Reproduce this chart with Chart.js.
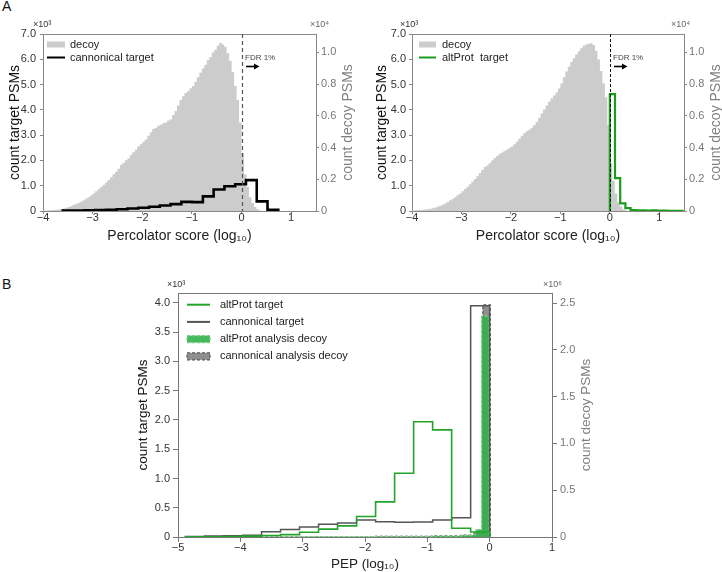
<!DOCTYPE html>
<html>
<head>
<meta charset="utf-8">
<script src="https://cdn.jsdelivr.net/npm/chart.js@4.4.1/dist/chart.umd.min.js"></script>
<style>
  body { margin: 0; background: #fff; width: 722px; height: 572px; position: relative; overflow: hidden; font-family: 'Liberation Sans', Arial, sans-serif; }
  canvas { position: absolute; }
  .tag { position: absolute; font-size: 14px; color: #111; }
</style>
</head>
<body>
<div class="tag" style="left:2px;top:-2px">A</div>
<div class="tag" style="left:2px;top:276px">B</div>
<canvas id="canonChart" width="361" height="250" style="left:0;top:0"></canvas>
<canvas id="altChart" width="361" height="250" style="left:361px;top:0"></canvas>
<canvas id="pepChart" width="722" height="292" style="left:0;top:280px"></canvas>
<script>
Chart.defaults.font.family = "'Liberation Sans', Arial, sans-serif";
Chart.defaults.font.size = 11;
Chart.defaults.color = "#333";

/* --------------- Panel A left : decoy vs cannonical target --------------- */

const decoyStart = -4.0;
const decoyWidth = 0.05;
const canonDecoyCounts = [
  30, 30, 50, 50, 60, 80, 95, 130, 160, 210,
  250, 320, 400, 460, 520, 600, 680, 780, 870, 990,
  1110, 1240, 1370, 1510, 1650, 1800, 1960, 2130, 2310, 2480,
  2660, 2890, 3020, 3200, 3330, 3530, 3700, 3860, 4060, 4200,
  4360, 4510, 4740, 4960, 5170, 5250, 5370, 5430, 5530, 5570,
  5700, 5760, 6040, 6300, 6650, 7000, 7230, 7440, 7550, 7730,
  7880, 8140, 8430, 8710, 8970, 9220, 9520, 9700, 9990, 10150,
  10410, 10600, 10490, 10340, 9940, 9460, 8750, 7870, 7000, 5570,
  3660, 2310, 1510, 870, 510, 250, 110, 30,
];
const canonTargetStart = -3.6;
const canonTargetWidth = 0.217;
const canonTargetCounts = [20, 20, 30, 40, 50, 70, 100, 130, 170, 220, 270, 360, 350, 580, 850, 980, 1060, 1220, 380, 50];

/* --------------- Panel A right : decoy vs altProt target --------------- */

const altDecoyCounts = [
  30, 50, 50, 60, 80, 100, 110, 140, 170, 220,
  270, 330, 400, 480, 570, 670, 760, 870, 990, 1110,
  1240, 1380, 1530, 1690, 1840, 2020, 2190, 2390, 2580, 2770,
  2860, 3020, 3180, 3340, 3470, 3590, 3690, 3780, 3880, 3980,
  4070, 4200, 4360, 4550, 4740, 4900, 5020, 5120, 5250, 5410,
  5600, 5880, 6140, 6390, 6650, 6880, 7090, 7280, 7470, 7710,
  8030, 8430, 8780, 9090, 9380, 9620, 9860, 10060, 10260, 10410,
  10490, 10530, 10570, 10460, 10100, 9540, 8820, 8030, 7160, 5410,
  3020, 1910, 1110, 560, 290, 110, 30,
];
const altTargetStart = 0;
const altTargetWidth = 0.105;
const altTargetCounts = [4620, 1300, 300, 110, 40, 30, 25, 20, 25, 20, 15, 10, 10, 10];

/* --------------- Panel B : PEP --------------- */

const pepStart = -4.88;
const pepWidth = 0.305;
const pepAltTarget = [3, 5, 8, 15, 25, 40, 80, 135, 190, 350, 600, 1090, 1970, 1830, 150, 85];
const pepCanonTarget = [10, 15, 20, 30, 90, 130, 170, 220, 240, 290, 260, 250, 255, 290, 330, 3950];
const pepAltDecoyEdges = [-4.88, -3.05, -1.83, -0.92, -0.46, -0.27, -0.22, -0.13, -0.01];
const pepAltDecoyCounts = [1000, 3000, 6000, 10000, 15000, 25000, 80000, 2360000];
const pepCanonDecoyEdges = [-4.88, -3.05, -1.83, -0.92, -0.46, -0.25, -0.11, 0.01];
const pepCanonDecoyCounts = [1500, 4000, 8000, 12000, 20000, 45000, 2480000];

/* --------------- Tick values --------------- */

const scoreTicks = [-4, -3, -2, -1, 0, 1];
const pepTicks = [-5, -4, -3, -2, -1, 0, 1];
const targetTicksA = [0, 1000, 2000, 3000, 4000, 5000, 6000, 7000];
const decoyTicksA = [0, 2000, 4000, 6000, 8000, 10000];
const targetTicksB = [0, 500, 1000, 1500, 2000, 2500, 3000, 3500, 4000];
const decoyTicksB = [0, 500000, 1000000, 1500000, 2000000, 2500000];

const fdrCut = 0;

/* --------------- Helpers --------------- */

function evenEdges(start, width, n) {
  return Array.from({ length: n + 1 }, (_, i) => +(start + i * width).toFixed(3));
}

// outline of a histogram: one flat top per bin
function histPoints(edges, counts) {
  const pts = [{ x: edges[0], y: 0 }];
  counts.forEach((c, i) => {
    pts.push({ x: edges[i], y: c }, { x: edges[i + 1], y: c });
  });
  pts.push({ x: edges[edges.length - 1], y: 0 });
  return pts;
}

const minus = (v) => (v < 0 ? "\u2212" + Math.abs(v) : String(v));
const scaled = (div) => (v) => (v === 0 ? "0" : (v / div).toFixed(1));
const fixTicks = (values) => (s) => { s.ticks = values.map((v) => ({ value: v })); };
const FONT = "'Liberation Sans', Arial, sans-serif";

/* --------------- Extras: frame, FDR mark, legend, right title --------------- */

const panelExtras = {
  id: "panelExtras",
  afterDatasetsDraw(chart, args, o) {
    const { ctx, chartArea: a, scales } = chart;
    ctx.save();
    ctx.strokeStyle = o.frame;
    ctx.lineWidth = 1;
    const ty = Math.round(a.top) + 0.5;
    ctx.beginPath();
    ctx.moveTo(a.left, ty);
    ctx.lineTo(a.right, ty);
    ctx.stroke();

    if (o.fdr) {
      const fx = Math.round(scales.x.getPixelForValue(fdrCut)) + 0.5;
      ctx.setLineDash(o.fdr.dash);
      ctx.strokeStyle = o.fdr.color;
      ctx.lineWidth = o.fdr.width;
      ctx.beginPath();
      ctx.moveTo(fx, a.top);
      ctx.lineTo(fx, a.bottom);
      ctx.stroke();
      ctx.setLineDash([]);
      ctx.fillStyle = "#444";
      ctx.font = "8px " + FONT;
      ctx.textAlign = "left";
      ctx.textBaseline = "middle";
      ctx.fillText("FDR 1%", fx + 2.5, a.top + 23.5);
      const ay = a.top + 32.5;
      ctx.strokeStyle = "#000";
      ctx.lineWidth = 1.6;
      ctx.beginPath();
      ctx.moveTo(fx + 3.5, ay);
      ctx.lineTo(fx + 13, ay);
      ctx.stroke();
      ctx.fillStyle = "#000";
      ctx.beginPath();
      ctx.moveTo(fx + 17, ay);
      ctx.lineTo(fx + 11.5, ay - 3);
      ctx.lineTo(fx + 11.5, ay + 3);
      ctx.closePath();
      ctx.fill();
    }
    ctx.restore();
  },
  afterDraw(chart, args, o) {
    const { ctx, chartArea: a } = chart;
    ctx.save();

    // legend
    const lg = o.legend;
    ctx.font = lg.size + "px " + FONT;
    ctx.textAlign = "left";
    ctx.textBaseline = "middle";
    chart.data.datasets.forEach((ds, i) => {
      const y = a.top + lg.top + i * lg.gap;
      const x = a.left + lg.left;
      if (ds.fill) {
        ctx.fillStyle = ds.backgroundColor;
        ctx.fillRect(x, y - lg.patchH / 2, lg.patchW, lg.patchH);
        if (ds.borderWidth) {
          ctx.setLineDash(ds.borderDash || []);
          ctx.strokeStyle = ds.borderColor;
          ctx.lineWidth = ds.borderWidth;
          ctx.strokeRect(x, y - lg.patchH / 2, lg.patchW, lg.patchH);
          ctx.setLineDash([]);
        }
      } else {
        ctx.strokeStyle = ds.borderColor;
        ctx.lineWidth = lg.lineW || ds.borderWidth;
        ctx.beginPath();
        ctx.moveTo(x, y);
        ctx.lineTo(x + lg.patchW, y);
        ctx.stroke();
      }
      ctx.fillStyle = "#222";
      ctx.fillText(ds.label, x + lg.patchW + lg.textGap, y);
    });

    // multipliers above both axes
    ctx.font = "9px " + FONT;
    ctx.fillStyle = "#333";
    ctx.fillText(o.exp.left, a.left + o.exp.lx, a.top + o.exp.dy);
    ctx.fillStyle = "#666";
    ctx.fillText(o.exp.right, a.right + o.exp.rx, a.top + o.exp.dy);

    // right axis title, read bottom to top
    ctx.translate(a.right + o.side.dx, (a.top + a.bottom) / 2);
    ctx.rotate(-Math.PI / 2);
    ctx.textAlign = "center";
    ctx.fillStyle = "#808080";
    ctx.font = o.side.size + "px " + FONT;
    ctx.fillText(o.side.text, 0, 0);
    ctx.restore();
  },
};

function axes(c) {
  return {
    x: {
      type: "linear",
      min: c.xMin,
      max: c.xMax,
      afterFit: (s) => { s.height = c.xH; },
      afterBuildTicks: fixTicks(c.xTicks),
      border: { color: c.frame },
      grid: { drawOnChartArea: false, tickLength: c.tl, color: c.frame },
      ticks: { padding: c.xPad, color: "#333", callback: minus, maxRotation: 0, autoSkip: false, font: { size: 11, lineHeight: 1 } },
      title: { display: true, text: c.xTitle, color: "#222", font: { size: c.titleSize, lineHeight: c.xTitleLH }, padding: { top: 0, bottom: c.xTitlePad } },
    },
    y: {
      min: 0,
      max: c.yMax,
      afterFit: (s) => { s.width = c.yW; },
      afterBuildTicks: fixTicks(c.yTicks),
      border: { color: c.frame },
      grid: { drawOnChartArea: false, tickLength: c.tl, color: c.frame },
      ticks: { padding: c.yPad, color: "#333", autoSkip: false, callback: scaled(c.yDiv) },
      title: { display: true, text: "count target PSMs", color: "#111", font: { size: c.titleSize }, padding: { top: c.yTitlePad, bottom: 0 } },
    },
    y1: {
      position: "right",
      min: 0,
      max: c.y1Max,
      afterFit: (s) => { s.width = c.y1W; },
      afterBuildTicks: fixTicks(c.y1Ticks),
      border: { color: c.frame },
      grid: { drawOnChartArea: false, tickLength: c.tl, color: c.frame },
      ticks: { padding: c.y1Pad, color: "#777", autoSkip: false, callback: scaled(c.y1Div) },
    },
  };
}

const baseOptions = {
  responsive: false,
  animation: false,
  events: [],
  devicePixelRatio: 1,
  elements: { point: { radius: 0, hoverRadius: 0 }, line: { tension: 0 } },
};

/* --------------- Panel A left chart --------------- */

new Chart(document.getElementById("canonChart"), {
  type: "line",
  plugins: [panelExtras],
  data: {
    datasets: [
      {
        label: "decoy",
        data: histPoints(evenEdges(decoyStart, decoyWidth, canonDecoyCounts.length), canonDecoyCounts),
        yAxisID: "y1",
        fill: "origin",
        backgroundColor: "#cccccc",
        borderColor: "rgba(0,0,0,0)",
        borderWidth: 0,
        order: 1,
      },
      {
        label: "cannonical target",
        data: histPoints(evenEdges(canonTargetStart, canonTargetWidth, canonTargetCounts.length), canonTargetCounts),
        yAxisID: "y",
        fill: false,
        borderColor: "#000000",
        borderWidth: 2.6,
        order: 0,
      },
    ],
  },
  options: {
    ...baseOptions,
    layout: { padding: { top: 34, left: 0, right: 0, bottom: 0 } },
    scales: axes({
      xMin: -4, xMax: 1.5, xTicks: scoreTicks, xH: 39, tl: 3, xPad: -2, frame: "#888",
      xTitle: "Percolator score (log\u2081\u2080)", titleSize: 14, xTitleLH: 1.2, xTitlePad: 5,
      yMax: 7000, yTicks: targetTicksA, yDiv: 1000, yW: 43, yPad: 4, yTitlePad: 7,
      y1Max: 11150, y1Ticks: decoyTicksA, y1Div: 10000, y1W: 45, y1Pad: 2,
    }),
    plugins: {
      legend: { display: false },
      tooltip: { enabled: false },
      panelExtras: {
        frame: "#888",
        fdr: { color: "#555", dash: [4, 3], width: 1.2 },
        legend: { size: 11, top: 10.5, gap: 13, left: 4, patchW: 18, patchH: 6, textGap: 5, lineW: 2 },
        exp: { left: "\u00d710\u00b3", right: "\u00d710\u2074", lx: -10, rx: -6, dy: -9 },
        side: { text: "count decoy PSMs", dx: 32, size: 14 },
      },
    },
  },
});

/* --------------- Panel A right chart --------------- */

new Chart(document.getElementById("altChart"), {
  type: "line",
  plugins: [panelExtras],
  data: {
    datasets: [
      {
        label: "decoy",
        data: histPoints(evenEdges(decoyStart, decoyWidth, altDecoyCounts.length), altDecoyCounts),
        yAxisID: "y1",
        fill: "origin",
        backgroundColor: "#cccccc",
        borderColor: "rgba(0,0,0,0)",
        borderWidth: 0,
        order: 1,
      },
      {
        label: "altProt  target",
        data: histPoints(evenEdges(altTargetStart, altTargetWidth, altTargetCounts.length), altTargetCounts),
        yAxisID: "y",
        fill: false,
        borderColor: "#1c9c1c",
        borderWidth: 2.2,
        order: 0,
      },
    ],
  },
  options: {
    ...baseOptions,
    layout: { padding: { top: 34, left: 0, right: 0, bottom: 0 } },
    scales: axes({
      xMin: -4, xMax: 1.5, xTicks: scoreTicks, xH: 39, tl: 3, xPad: -2, frame: "#888",
      xTitle: "Percolator score (log\u2081\u2080)", titleSize: 14, xTitleLH: 1.2, xTitlePad: 5,
      yMax: 7000, yTicks: targetTicksA, yDiv: 1000, yW: 51, yPad: 3, yTitlePad: 13,
      y1Max: 11150, y1Ticks: decoyTicksA, y1Div: 10000, y1W: 38, y1Pad: 2,
    }),
    plugins: {
      legend: { display: false },
      tooltip: { enabled: false },
      panelExtras: {
        frame: "#888",
        fdr: { color: "#111", dash: [3, 2], width: 1 },
        legend: { size: 11, top: 10.5, gap: 13, left: 7, patchW: 17, patchH: 6, textGap: 6, lineW: 2 },
        exp: { left: "\u00d710\u00b3", right: "\u00d710\u2074", lx: -12, rx: -13, dy: -9 },
        side: { text: "count decoy PSMs", dx: 32, size: 14 },
      },
    },
  },
});

/* --------------- Panel B chart --------------- */

const pepEdges = evenEdges(pepStart, pepWidth, pepAltTarget.length);

new Chart(document.getElementById("pepChart"), {
  type: "line",
  plugins: [panelExtras],
  data: {
    datasets: [
      {
        label: "altProt target",
        data: histPoints(pepEdges, pepAltTarget),
        yAxisID: "y",
        fill: false,
        borderColor: "#22a32a",
        borderWidth: 1.6,
        order: 0,
      },
      {
        label: "cannonical target",
        data: histPoints(pepEdges, pepCanonTarget),
        yAxisID: "y",
        fill: false,
        borderColor: "#555555",
        borderWidth: 1.5,
        order: 1,
      },
      {
        label: "altProt analysis decoy",
        data: histPoints(pepAltDecoyEdges, pepAltDecoyCounts),
        yAxisID: "y1",
        fill: "origin",
        backgroundColor: "rgba(52,176,78,0.9)",
        borderColor: "#7ccf86",
        borderDash: [3, 2],
        borderWidth: 1.2,
        order: 2,
      },
      {
        label: "cannonical analysis decoy",
        data: histPoints(pepCanonDecoyEdges, pepCanonDecoyCounts),
        yAxisID: "y1",
        fill: "origin",
        backgroundColor: "#8f8f8f",
        borderColor: "#5a5a5a",
        borderDash: [3, 2],
        borderWidth: 1.2,
        order: 3,
      },
    ],
  },
  options: {
    ...baseOptions,
    layout: { padding: { top: 13, left: 128, right: 130, bottom: 0 } },
    scales: axes({
      xMin: -5, xMax: 1, xTicks: pepTicks, xH: 35, tl: 5, xPad: 0, frame: "#777",
      xTitle: "PEP (log\u2081\u2080)", titleSize: 13.5, xTitleLH: 1, xTitlePad: 0.5,
      yMax: 4170, yTicks: targetTicksB, yDiv: 1000, yW: 50, yPad: 3, yTitlePad: 7,
      y1Max: 2607000, y1Ticks: decoyTicksB, y1Div: 1000000, y1W: 40, y1Pad: 3,
    }),
    plugins: {
      legend: { display: false },
      tooltip: { enabled: false },
      panelExtras: {
        frame: "#777",
        fdr: null,
        legend: { size: 11, top: 11.7, gap: 17.2, left: 9, patchW: 23, patchH: 7, textGap: 10, lineW: 2 },
        exp: { left: "\u00d710\u00b3", right: "\u00d710\u2076", lx: -11, rx: -9, dy: -8 },
        side: { text: "count decoy PSMs", dx: 34.7, size: 13.5 },
      },
    },
  },
});
</script>
</body>
</html>
